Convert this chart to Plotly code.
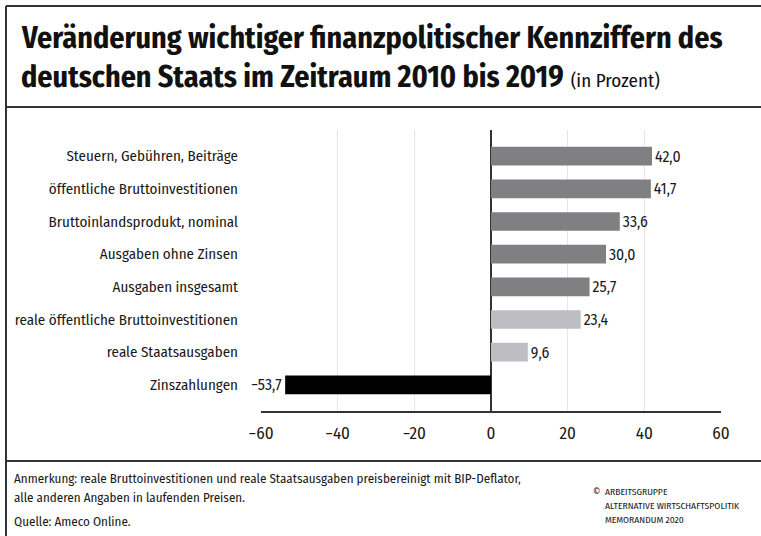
import plotly.graph_objects as go

categories = [
    "Steuern, Gebühren, Beiträge",
    "öffentliche Bruttoinvestitionen",
    "Bruttoinlandsprodukt, nominal",
    "Ausgaben ohne Zinsen",
    "Ausgaben insgesamt",
    "reale öffentliche Bruttoinvestitionen",
    "reale Staatsausgaben",
    "Zinszahlungen",
]
values = [42.0, 41.7, 33.6, 30.0, 25.7, 23.4, 9.6, -53.7]
bar_colors = ["#808083", "#808083", "#808083", "#808083", "#808083",
              "#bdbec1", "#bdbec1", "#000000"]
tick_vals = [-60, -40, -20, 0, 20, 40, 60]
tick_text = ["−60", "−40", "−20", "0", "20", "40", "60"]

def fmt(v):
    s = f"{abs(v):.1f}".replace(".", ",")
    return ("−" + s) if v < 0 else s

FONT = "Fira Sans Condensed, Roboto Condensed, PT Sans Narrow, sans-serif"
TXT = "#1a1a1a"

W, H = 761, 536
L, R, T, B = 261, 721, 130, 411
PW, PH = R - L, B - T

def px(x):
    return (x - L) / PW

def py(y):
    return (B - y) / PH

fig = go.Figure(go.Bar(
    x=values,
    y=categories,
    orientation="h",
    marker=dict(color=bar_colors, line=dict(width=0)),
    text=[fmt(v) for v in values],
    textposition="outside",
    textfont=dict(family=FONT, size=16, color=TXT),
    cliponaxis=False,
    width=0.57,
    hoverinfo="skip",
))

line_col = "#333333"
shapes = [
    dict(type="line", xref="paper", yref="paper", x0=px(6), x1=px(6), y0=py(6), y1=py(540),
         line=dict(color=line_col, width=2)),
    dict(type="line", xref="paper", yref="paper", x0=px(6), x1=px(765), y0=py(6), y1=py(6),
         line=dict(color=line_col, width=2)),
    dict(type="line", xref="paper", yref="paper", x0=px(6), x1=px(765), y0=py(107), y1=py(107),
         line=dict(color=line_col, width=2)),
    dict(type="line", xref="paper", yref="paper", x0=px(6), x1=px(765), y0=py(461), y1=py(461),
         line=dict(color=line_col, width=2)),
]

annotations = [
    dict(xref="paper", yref="paper", x=px(19), y=py(38), xanchor="left", yanchor="middle",
         text="<b>Veränderung wichtiger finanzpolitischer Kennziffern des</b>",
         showarrow=False, font=dict(family=FONT, size=30, color="#111111")),
    dict(xref="paper", yref="paper", x=px(19), y=py(77), xanchor="left", yanchor="middle",
         text="<b>deutschen Staats im Zeitraum 2010 bis 2019</b> <span style='font-size:19px'>(in Prozent)</span>",
         showarrow=False, font=dict(family=FONT, size=30, color="#111111")),
    dict(xref="paper", yref="paper", x=px(12), y=py(478), xanchor="left", yanchor="middle",
         text="Anmerkung: reale Bruttoinvestitionen und reale Staatsausgaben preisbereinigt mit BIP-Deflator,",
         showarrow=False, font=dict(family=FONT, size=13, color=TXT)),
    dict(xref="paper", yref="paper", x=px(12), y=py(497), xanchor="left", yanchor="middle",
         text="alle anderen Angaben in laufenden Preisen.",
         showarrow=False, font=dict(family=FONT, size=13, color=TXT)),
    dict(xref="paper", yref="paper", x=px(12), y=py(521), xanchor="left", yanchor="middle",
         text="Quelle: Ameco Online.",
         showarrow=False, font=dict(family=FONT, size=13, color=TXT)),
    dict(xref="paper", yref="paper", x=px(591), y=py(492), xanchor="left", yanchor="middle",
         text="©",
         showarrow=False, font=dict(family=FONT, size=10, color=TXT)),
    dict(xref="paper", yref="paper", x=px(603), y=py(492), xanchor="left", yanchor="middle",
         text="ARBEITSGRUPPE",
         showarrow=False, font=dict(family=FONT, size=9.6, color=TXT)),
    dict(xref="paper", yref="paper", x=px(603), y=py(506), xanchor="left", yanchor="middle",
         text="ALTERNATIVE WIRTSCHAFTSPOLITIK",
         showarrow=False, font=dict(family=FONT, size=9.6, color=TXT)),
    dict(xref="paper", yref="paper", x=px(603), y=py(520), xanchor="left", yanchor="middle",
         text="MEMORANDUM 2020",
         showarrow=False, font=dict(family=FONT, size=9.6, color=TXT)),
]

fig.update_layout(
    width=W, height=H,
    margin=dict(l=L, r=W - R, t=T, b=H - B, pad=0, autoexpand=False),
    paper_bgcolor="white", plot_bgcolor="white",
    showlegend=False,
    font=dict(family=FONT, size=15, color=TXT),
    xaxis=dict(
        range=[-60, 60], tickvals=tick_vals, ticktext=tick_text,
        showgrid=True, gridcolor="#e6e6e6", gridwidth=1,
        zeroline=True, zerolinecolor=line_col, zerolinewidth=2,
        showline=True, linecolor=line_col, linewidth=2,
        ticks="", ticklabelstandoff=6,
        tickfont=dict(family=FONT, size=17, color=TXT),
        automargin=False, fixedrange=True,
    ),
    yaxis=dict(
        type="category", categoryorder="array", categoryarray=categories,
        range=[7.8, -0.8],
        showgrid=False, zeroline=False, showline=False, ticks="",
        ticklabelstandoff=22,
        tickfont=dict(family=FONT, size=15, color=TXT),
        automargin=False, fixedrange=True,
    ),
    shapes=shapes,
    annotations=annotations,
)

fig.write_html("out.html", config={"displayModeBar": False},
               post_script="document.body.style.margin='0';")
